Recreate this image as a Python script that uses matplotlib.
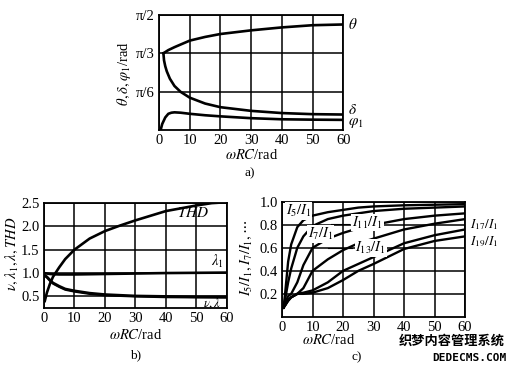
import numpy as np
import matplotlib
matplotlib.use("Agg")
import matplotlib.pyplot as plt

plt.rcParams['font.family'] = ['Liberation Serif', 'Noto Sans CJK SC']
plt.rcParams['mathtext.fontset'] = 'stix'
plt.rcParams['font.size'] = 10

# ---- panel a: angles vs wRC
th_x = [1.4, 3, 5, 10, 15, 20, 30, 40, 50, 60]
theta = [1.047, 1.09, 1.13, 1.22, 1.27, 1.31, 1.36, 1.40, 1.43, 1.44]
de_x = [1.4, 1.6, 2, 2.5, 3.5, 5, 7, 10, 15, 20, 30, 40, 50, 60]
delta = [1.047, 0.95, 0.87, 0.80, 0.70, 0.60, 0.52, 0.44, 0.36, 0.31, 0.26, 0.23, 0.215, 0.21]
ph_x = [0.5, 1, 2, 3, 4, 5, 7, 10, 15, 20, 30, 40, 50, 60]
phi1 = [0.0, 0.08, 0.17, 0.22, 0.235, 0.24, 0.235, 0.22, 0.20, 0.185, 0.16, 0.145, 0.14, 0.137]

# ---- panel b
thd_x = [0.3, 1, 2, 3, 4, 5, 7, 10, 15, 20, 25, 30, 40, 50, 55, 60]
thd = [0.4, 0.58, 0.77, 0.92, 1.02, 1.12, 1.3, 1.5, 1.74, 1.9, 2.02, 2.13, 2.33, 2.45, 2.5, 2.52]
b_x = [0, 1, 2, 3, 5, 7, 10, 15, 20, 30, 40, 50, 60]
lam1 = [1.0, 0.99, 0.98, 0.975, 0.97, 0.97, 0.97, 0.975, 0.98, 0.99, 1.0, 1.005, 1.01]
nu = [0.97, 0.92, 0.85, 0.79, 0.72, 0.66, 0.62, 0.57, 0.54, 0.51, 0.50, 0.49, 0.49]
lam = [0.95, 0.90, 0.83, 0.77, 0.70, 0.64, 0.60, 0.55, 0.52, 0.495, 0.48, 0.475, 0.47]

# ---- panel c: harmonic ratios
c_x = [0.5, 1, 2, 3, 5, 7, 10, 15, 20, 25, 30, 40, 50, 60]
i5 = [0.08, 0.2, 0.48, 0.63, 0.78, 0.84, 0.88, 0.91, 0.93, 0.95, 0.96, 0.97, 0.975, 0.98]
i7 = [0.08, 0.15, 0.3, 0.42, 0.6, 0.7, 0.79, 0.85, 0.88, 0.9, 0.92, 0.94, 0.95, 0.96]
i11 = [0.08, 0.12, 0.18, 0.2, 0.3, 0.45, 0.6, 0.68, 0.73, 0.77, 0.8, 0.85, 0.88, 0.9]
i13 = [0.08, 0.1, 0.14, 0.17, 0.2, 0.25, 0.4, 0.5, 0.58, 0.64, 0.68, 0.76, 0.81, 0.85]
i17 = [0.08, 0.1, 0.15, 0.17, 0.2, 0.21, 0.23, 0.3, 0.4, 0.46, 0.52, 0.64, 0.71, 0.76]
i19 = [0.08, 0.1, 0.14, 0.17, 0.2, 0.2, 0.21, 0.25, 0.32, 0.4, 0.46, 0.59, 0.66, 0.70]

xt = [0, 10, 20, 30, 40, 50, 60]
lw = 1.9
fs = 10.5


def setup(ax):
    ax.set_xlim(0, 60)
    ax.set_xticks(xt)
    ax.tick_params(length=0, pad=3, labelsize=fs)
    ax.grid(True, color='black', lw=1.1)
    for s in ax.spines.values():
        s.set_linewidth(1.3)
    ax.set_axisbelow(True)


fig = plt.figure(figsize=(5.10, 3.68), dpi=100)

# a)
ax = fig.add_axes([0.312, 0.647, 0.361, 0.3125])
setup(ax)
ax.set_ylim(0, np.pi / 2)
ax.set_yticks([np.pi / 6, np.pi / 3, np.pi / 2])
ax.set_yticklabels(['π/6', 'π/3', 'π/2'])
ax.plot(th_x, theta, color='black', lw=lw)
ax.plot(de_x, delta, color='black', lw=lw)
ax.plot(ph_x, phi1, color='black', lw=lw)
ax.text(61.5, 1.44, r'$\theta$', fontsize=11, va='center')
ax.text(61.5, 0.27, r'$\delta$', fontsize=11, va='center')
ax.text(61.5, 0.09, r'$\varphi_1$', fontsize=11, va='center')
fig.text(0.243, 0.80, r'$\theta,\delta,\varphi_1$/rad', rotation=90, ha='center', va='center', fontsize=fs)
fig.text(0.494, 0.578, r'$\omega RC$/rad', ha='center', va='center', fontsize=fs)
fig.text(0.49, 0.53, 'a)', ha='center', va='center', fontsize=9.5)

# b)
ax = fig.add_axes([0.086, 0.163, 0.359, 0.285])
setup(ax)
ax.set_ylim(0.25, 2.5)
ax.set_yticks([0.5, 1.0, 1.5, 2.0, 2.5])
ax.set_yticklabels(['0.5', '1.0', '1.5', '2.0', '2.5'])
ax.plot(thd_x, thd, color='black', lw=lw)
ax.plot(b_x, lam1, color='black', lw=lw)
ax.plot(b_x, nu, color='black', lw=lw)
ax.plot(b_x, lam, color='black', lw=1.4)
ax.text(49, 2.28, r'$THD$', fontsize=11, ha='center', va='center')
ax.text(57, 1.25, r'$\lambda_1$', fontsize=fs, ha='center', va='center')
ax.text(55, 0.35, r'$\nu,\lambda$', fontsize=9, ha='center', va='center', zorder=5)
fig.text(0.024, 0.31, r'$\nu,\lambda_1,\lambda,THD$', rotation=90, ha='center', va='center', fontsize=fs)
fig.text(0.265, 0.09, r'$\omega RC$/rad', ha='center', va='center', fontsize=fs)
fig.text(0.265, 0.035, 'b)', ha='center', va='center', fontsize=9.5)

# c)
ax = fig.add_axes([0.553, 0.139, 0.359, 0.3125])
setup(ax)
ax.set_ylim(0, 1.0)
ax.set_yticks([0.2, 0.4, 0.6, 0.8, 1.0])
ax.set_yticklabels(['0.2', '0.4', '0.6', '0.8', '1.0'])
for ys in [i5, i7, i11, i13, i17, i19]:
    ax.plot(c_x, ys, color='black', lw=1.7)
box = dict(fc='white', ec='none', pad=0.5)
ax.text(1.2, 0.92, r'$I_5/I_1$', fontsize=fs, va='center', bbox=box)
ax.text(8.5, 0.72, r'$I_7/I_1$', fontsize=fs, va='center', bbox=box)
ax.text(23, 0.82, r'$I_{11}/I_1$', fontsize=fs, va='center', bbox=box)
ax.plot([16, 22], [0.81, 0.81], color='black', lw=0.8)
ax.text(24, 0.60, r'$I_{13}/I_1$', fontsize=fs, va='center', bbox=box)
ax.plot([15, 23], [0.60, 0.60], color='black', lw=0.8)
ax.text(61.5, 0.80, r'$I_{17}/I_1$', fontsize=9.5, va='center')
ax.text(61.5, 0.655, r'$I_{19}/I_1$', fontsize=9.5, va='center')
fig.text(0.484, 0.30, r'$I_5/I_1,I_7/I_1,\cdots$', rotation=90, ha='center', va='center', fontsize=fs)
fig.text(0.645, 0.075, r'$\omega RC$/rad', ha='center', va='center', fontsize=fs)
fig.text(0.70, 0.03, 'c)', ha='center', va='center', fontsize=9.5)

# watermark
fig.text(0.885, 0.075, '织梦内容管理系统', ha='center', va='center', fontsize=9.5,
         fontweight='bold', family=['Noto Sans CJK SC'])
fig.text(0.92, 0.028, 'DEDECMS.COM', ha='center', va='center', fontsize=8,
         fontweight='bold', family=['DejaVu Sans Mono'])

fig.savefig('out.png', dpi=100)
